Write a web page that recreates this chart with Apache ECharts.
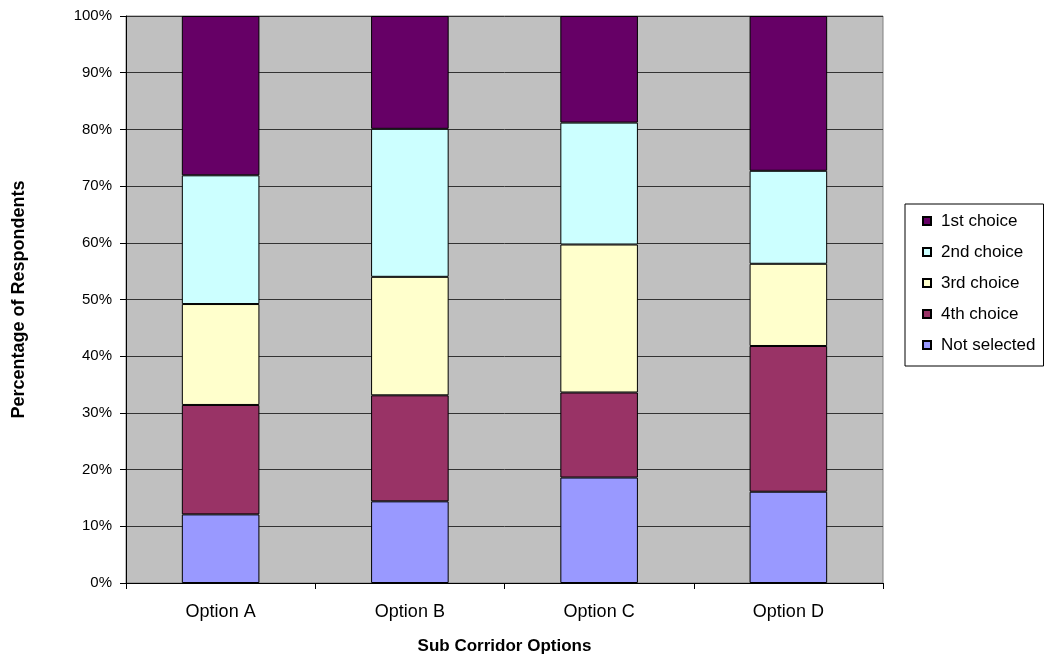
<!DOCTYPE html>
<html>
<head>
<meta charset="utf-8">
<script src="https://cdn.jsdelivr.net/npm/echarts@6/dist/echarts.min.js"></script>
<style>
  html, body { margin: 0; padding: 0; background: #ffffff; }
  #chart { width: 1045px; height: 657px; }
</style>
</head>
<body>
<div id="chart"></div>
<script>
// Sub corridor options on the category axis
const categories = ['Option A', 'Option B', 'Option C', 'Option D'];

// Share of respondents (%) per ranking, one value per option
const notSelected = [12.1, 14.4, 18.6, 16.1];
const fourthChoice = [19.3, 18.7, 15.0, 25.7];
const thirdChoice = [17.8, 20.9, 26.1, 14.5];
const secondChoice = [22.7, 26.1, 21.5, 16.4];
const firstChoice = [28.1, 19.9, 18.8, 27.3];

// Value axis ticks
const yTicks = [0, 10, 20, 30, 40, 50, 60, 70, 80, 90, 100];

const FONT = '"Liberation Sans", Arial, sans-serif';

// Stack order: bottom segment first
const stackSeries = [
  { name: 'Not selected', data: notSelected, color: '#9999FF' },
  { name: '4th choice', data: fourthChoice, color: '#993366' },
  { name: '3rd choice', data: thirdChoice, color: '#FFFFCC' },
  { name: '2nd choice', data: secondChoice, color: '#CCFFFF' },
  { name: '1st choice', data: firstChoice, color: '#660066' }
];

const chart = echarts.init(document.getElementById('chart'), null, { renderer: 'canvas' });

chart.setOption({
  animation: false,
  backgroundColor: '#ffffff',
  textStyle: { fontFamily: FONT },
  grid: {
    left: 126, right: 162, top: 16, bottom: 74,
    outerBoundsMode: 'none',
    containLabel: false,
    show: true,
    backgroundColor: '#C0C0C0',
    borderColor: '#808080',
    borderWidth: 1
  },
  legend: {
    orient: 'vertical',
    left: 905,
    top: 204,
    data: ['1st choice', '2nd choice', '3rd choice', '4th choice', 'Not selected'],
    icon: 'rect',
    itemWidth: 8,
    itemHeight: 8,
    itemGap: 11,
    padding: [7, 8, 11, 17],
    borderColor: '#000000',
    borderWidth: 1,
    backgroundColor: '#ffffff',
    textStyle: { fontFamily: FONT, fontSize: 17, color: '#000', lineHeight: 20, padding: [0, 0, 0, 5] }
  },
  xAxis: {
    type: 'category',
    data: categories,
    name: 'Sub Corridor Options',
    nameLocation: 'middle',
    nameGap: 55,
    nameTextStyle: { fontFamily: FONT, fontSize: 17, fontWeight: 'bold', color: '#000' },
    axisLine: { lineStyle: { color: '#000', width: 1 } },
    axisTick: { show: true, length: 6, lineStyle: { color: '#000' } },
    axisLabel: { fontFamily: FONT, fontSize: 18, color: '#000', margin: 20 },
    splitLine: { show: false }
  },
  yAxis: {
    type: 'value',
    min: yTicks[0],
    max: yTicks[yTicks.length - 1],
    interval: yTicks[1] - yTicks[0],
    name: 'Percentage of Respondents',
    nameLocation: 'middle',
    nameGap: 98,
    nameTextStyle: { fontFamily: FONT, fontSize: 18, fontWeight: 'bold', color: '#000' },
    axisLine: { show: true, lineStyle: { color: '#000', width: 1 } },
    axisTick: { show: true, length: 6, lineStyle: { color: '#000' } },
    axisLabel: { fontFamily: FONT, fontSize: 15, color: '#000', margin: 14, formatter: '{value}%' },
    splitLine: { show: true, lineStyle: { color: '#333333', width: 1 } }
  },
  series: stackSeries.map(s => ({
    name: s.name,
    type: 'bar',
    stack: 'total',
    barWidth: '41%',
    data: s.data,
    itemStyle: { color: s.color, borderColor: '#000000', borderWidth: 1 },
    emphasis: { disabled: true }
  }))
});
</script>
</body>
</html>
